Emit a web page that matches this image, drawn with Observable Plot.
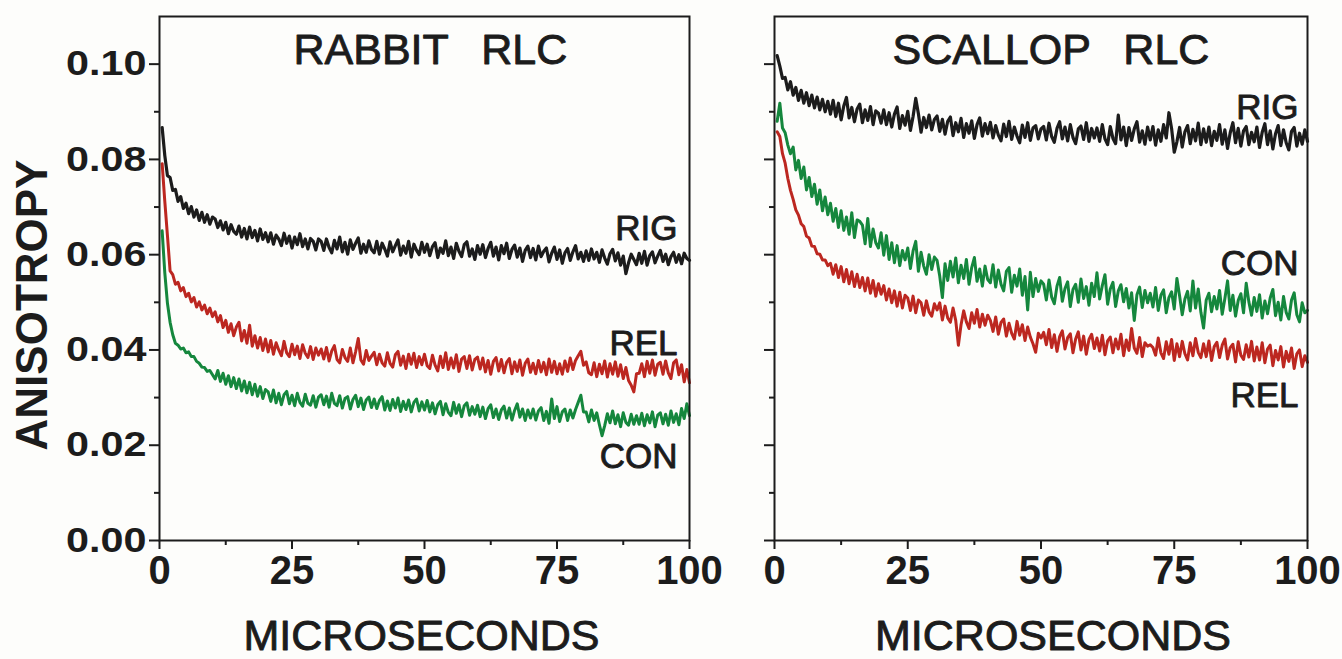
<!DOCTYPE html>
<html><head><meta charset="utf-8">
<script src="https://cdn.jsdelivr.net/npm/d3@7"></script>
<script src="https://cdn.jsdelivr.net/npm/@observablehq/plot@0.6"></script>
<style>
html,body{margin:0;padding:0;background:#fdfdfb;}
#chart{position:relative;width:1342px;height:659px;overflow:hidden;background:#fdfdfb;}
#chart svg{position:absolute;top:0;overflow:visible;}
</style></head><body><div id="chart"></div>
<script>
// Sampling times (microseconds): 0.5 µs steps
const times = d3.range(0.5, 100.01, 0.5);

// Anisotropy values, in units of 1e-4 (one value per sampling time)
const rabbitRIG = [
867,808,766,762,735,737,712,722,697,708,686,701,679,694,672,689,668,684,664,679,
675,657,671,652,668,644,663,649,643,660,637,655,633,658,636,651,629,654,632,646,
627,646,622,641,633,619,645,624,639,614,637,621,644,617,633,612,634,628,610,633,
628,609,633,615,604,630,612,637,606,626,601,631,611,624,635,603,622,605,629,611,
604,628,601,624,612,597,627,606,619,631,599,618,603,628,595,622,609,600,626,605,
622,598,617,625,594,614,603,629,598,616,592,624,607,596,621,627,597,612,590,619,
601,621,594,613,626,597,616,589,619,602,624,592,611,620,595,614,586,609,618,594,
613,589,618,596,607,614,585,603,616,590,610,582,604,613,588,606,619,591,605,586,
608,588,612,591,605,584,610,593,580,602,611,587,604,578,597,560,583,601,590,579,
603,582,607,578,598,606,583,597,609,586,601,579,596,605,584,600,581,603,592,588];
const rabbitREL = [
791,712,640,566,558,538,542,524,531,512,519,501,510,490,501,484,494,476,488,470,
480,459,472,447,462,437,455,430,448,458,419,441,414,452,408,430,404,426,399,423,
396,420,391,415,400,388,418,394,386,412,390,408,382,411,393,384,407,380,404,389,
402,381,405,377,398,409,380,373,401,384,376,404,373,396,424,379,370,399,378,387,
395,369,391,373,366,394,372,364,390,397,368,387,361,391,370,393,363,386,369,391,
367,361,389,368,356,387,363,394,359,383,362,390,355,381,386,361,388,358,380,385,
360,383,354,378,349,376,384,356,380,352,374,382,350,375,355,379,347,372,381,353,
372,350,378,354,374,348,381,353,376,350,371,349,377,355,383,359,378,388,397,368,
375,352,348,373,344,370,350,377,343,371,349,375,345,369,340,363,336,326,312,350,
351,371,344,376,351,379,347,370,374,349,377,352,340,373,379,348,369,333,359,331];
const rabbitCON = [
650,562,498,458,432,414,410,402,404,394,396,386,386,376,372,364,363,355,357,348,
339,357,334,351,328,346,323,342,319,339,314,335,310,332,306,328,303,323,298,317,
312,292,316,289,309,285,306,313,287,305,283,309,290,282,307,288,284,304,280,301,
306,285,303,280,309,288,283,304,278,298,302,276,296,305,281,299,275,295,301,279,
297,277,294,302,274,293,273,296,278,299,271,292,275,295,270,290,297,272,291,274,
294,270,289,266,285,292,264,287,269,262,290,267,285,260,283,289,263,281,265,284,
260,280,256,277,285,258,276,254,274,282,257,278,253,273,287,259,276,252,274,257,
276,253,272,279,252,271,246,297,256,281,250,270,276,252,274,257,275,290,305,270,
270,249,274,252,268,243,220,241,266,247,272,245,264,239,268,248,242,265,244,262,
244,267,241,264,247,270,239,263,268,245,265,242,272,248,266,243,277,256,287,262];
const scallopRIG = [
1018,996,970,972,946,963,935,951,924,945,918,940,913,935,908,931,904,926,900,922,
895,924,890,918,883,912,930,887,909,879,906,916,877,904,882,911,873,902,897,876,
904,873,898,868,895,910,865,892,872,901,861,890,928,896,857,888,867,893,862,884,
891,859,884,853,880,889,850,877,858,886,846,875,855,881,844,873,887,849,875,854,
878,845,871,851,839,874,848,880,842,868,849,835,872,846,877,840,866,871,843,864,
869,841,876,848,836,865,879,843,868,839,873,846,833,864,870,842,877,838,865,845,
866,838,873,843,831,869,844,833,893,841,868,829,867,840,864,879,836,860,832,868,
841,869,830,862,838,873,845,898,865,815,837,867,826,858,871,833,863,839,876,831,
864,836,868,829,859,840,873,832,862,823,856,877,835,865,828,860,869,831,857,837,
868,825,857,875,831,860,822,854,871,829,862,835,820,859,867,828,855,832,862,838];
const scallopCON = [
880,918,866,856,830,812,826,778,798,760,784,736,762,722,748,706,736,692,721,684,
708,670,697,657,692,651,679,643,688,636,673,670,662,623,676,617,654,625,614,646,
599,640,590,625,583,619,577,609,589,614,571,608,628,565,605,576,559,600,569,595,
588,555,510,581,546,586,553,593,541,578,550,590,538,573,594,544,570,534,576,548,
541,579,532,568,538,524,565,573,521,557,534,570,515,554,484,563,512,550,523,545,
538,505,547,511,497,534,552,502,529,543,491,527,538,500,549,508,533,494,540,512,
562,507,535,558,496,528,542,491,524,537,501,529,488,520,462,516,532,489,525,499,
519,490,531,483,515,526,478,510,522,486,550,514,474,507,523,482,545,488,528,479,
446,505,519,480,512,486,525,475,508,545,483,515,471,504,518,478,540,501,473,510,
481,516,467,503,476,509,527,472,500,463,512,479,465,505,520,474,459,499,478,483];
const scallopREL = [
858,848,812,792,760,735,716,694,683,665,659,639,635,618,617,602,601,589,589,577,
582,559,579,552,575,543,569,539,564,533,559,531,552,524,551,519,546,513,539,517,
535,505,528,499,524,492,521,488,515,509,483,513,478,505,499,473,503,480,471,497,
484,499,463,492,467,458,488,462,410,453,482,459,445,478,456,485,448,475,452,473,
462,439,469,433,458,465,429,456,435,423,460,431,453,420,448,427,413,395,435,425,
437,411,443,405,432,397,428,440,402,426,434,394,423,438,400,429,391,422,433,403,
425,398,431,390,419,427,394,423,402,433,388,421,399,445,404,393,426,386,415,408,
411,405,389,425,394,382,417,391,422,378,413,386,418,392,379,415,388,424,395,384,
413,386,419,378,407,416,384,410,423,381,405,412,375,417,389,380,411,385,418,377,
406,379,415,373,402,410,367,399,379,407,364,397,376,404,361,392,400,365,388,374];

// Axis ticks
const yMajor = [0, 0.02, 0.04, 0.06, 0.08, 0.10];
const yMinor = [0.01, 0.03, 0.05, 0.07, 0.09];
const xMajor = [0, 25, 50, 75, 100];
const xMinor = [12.5, 37.5, 62.5, 87.5];

// Panels, series names and label anchors (anisotropy at top of each label)
const panelTitles = {rabbit: "RABBIT\u00a0\u00a0\u2009RLC", scallop: "SCALLOP\u00a0\u00a0\u2009RLC"};
const seriesNames = ["RIG", "REL", "CON"];
const labelAnchors = {
  rabbit: {RIG: 0.0682, REL: 0.0441, CON: 0.0204},
  scallop: {RIG: 0.0938, REL: 0.0332, CON: 0.0609}
};
const seriesValues = {
  rabbit: {RIG: rabbitRIG, REL: rabbitREL, CON: rabbitCON},
  scallop: {RIG: scallopRIG, REL: scallopREL, CON: scallopCON}
};
const colors = {RIG: "#1c1c1c", REL: "#bc2720", CON: "#15873d"};
const INK = "#1c1c1c";
const FONT = "'Liberation Sans', Arial, Helvetica, sans-serif";
const heavy = {fill: INK, stroke: INK, strokeWidth: 0.9, paintOrder: "stroke"};

function rowsFor(panel, name) {
  return seriesValues[panel][name].map((v, i) => ({t: times[i], a: v / 1e4}));
}

function makePanel(panel, opts) {
  const labels = seriesNames.map(n => ({name: n, y: labelAnchors[panel][n]}));
  const lines = seriesNames.map(n => Plot.line(rowsFor(panel, n), {
    x: "t", y: "a", stroke: colors[n], strokeWidth: n === "RIG" ? 3.2 : 3, strokeLinejoin: "round"
  }));
  const marks = [
    Plot.axisY(yMajor, {tickSize: 10, tickPadding: 3, strokeWidth: 2,
      tickFormat: opts.yLabels ? d3.format(".2f") : () => "", fontSize: 35, fontWeight: "bold", label: null}),
    Plot.axisY(yMinor, {tickSize: 5, strokeWidth: 2, tickFormat: () => "", label: null}),
    Plot.axisX(xMajor, {tickSize: 9, tickPadding: 6, strokeWidth: 2, fontSize: 40, fontWeight: "bold", label: null}),
    Plot.axisX(xMinor, {tickSize: 5, strokeWidth: 2, tickFormat: () => "", label: null}),
    ...lines,
    Plot.frame({stroke: INK, strokeWidth: 2}),
    Plot.text([panelTitles[panel]], {frameAnchor: "top-left", textAnchor: "start", lineAnchor: "top",
      dx: opts.titleDx, dy: 17, fontSize: 43, ...heavy}),
    Plot.text(labels, {x: () => 100, y: "y", text: "name", textAnchor: "end", lineAnchor: "top",
      dx: opts.labelDx, fontSize: 35, ...heavy}),
    Plot.text(["MICROSECONDS"], {frameAnchor: "bottom", lineAnchor: "top", dx: opts.xLabelDx, dy: 79,
      fontSize: 43, ...heavy})
  ];
  return Plot.plot({
    width: opts.width, height: 659,
    marginTop: 16, marginBottom: 119, marginLeft: opts.marginLeft, marginRight: opts.marginRight,
    style: {background: "transparent", fontFamily: FONT, color: INK, overflow: "visible"},
    x: {domain: [0, 100], label: null},
    y: {domain: [0, 0.11], label: null},
    marks
  });
}

const chart = document.getElementById("chart");
const left = makePanel("rabbit", {width: 760, marginLeft: 159, marginRight: 71, yLabels: true, titleDx: 134, labelDx: -12, xLabelDx: -3});
left.style.left = "0px";
chart.appendChild(left);
const right = makePanel("scallop", {width: 642, marginLeft: 74, marginRight: 35, yLabels: false, titleDx: 118, labelDx: -9, xLabelDx: 12});
right.style.left = "700px";
chart.appendChild(right);

// y-axis title, rotated, left of the rabbit panel
d3.select(left).append("text")
  .attr("transform", "translate(31,305) rotate(-90)")
  .attr("text-anchor", "middle").attr("dy", "0.36em")
  .attr("font-family", FONT).attr("font-size", 44).attr("font-weight", "bold")
  .attr("fill", INK)
  .text("ANISOTROPY");

// widen the y tick labels as in the original typesetting
chart.querySelectorAll('g[aria-label="y-axis tick label"] text').forEach(t => {
  if (!t.textContent) return;
  const w = t.getComputedTextLength();
  if (w > 0) {
    t.setAttribute("textLength", (w * 1.18).toFixed(1));
    t.setAttribute("lengthAdjust", "spacingAndGlyphs");
  }
});
</script></body></html>
